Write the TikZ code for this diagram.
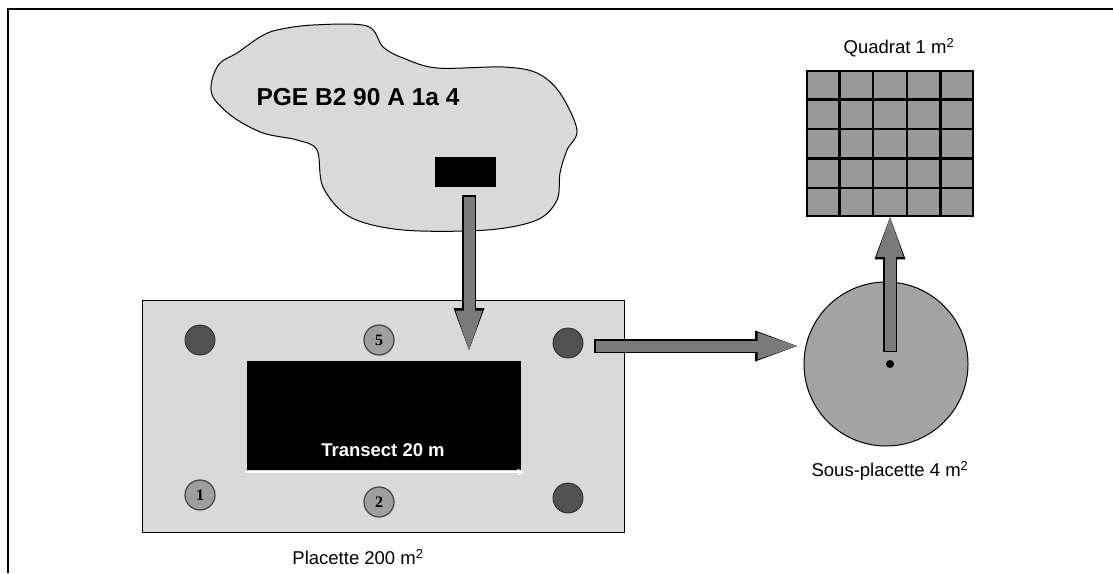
\documentclass[tikz,border=0pt]{standalone}
\usepackage{fontspec}
\setmainfont{Liberation Sans}
\newfontfamily\numfont{Liberation Serif}
\usetikzlibrary{arrows.meta,positioning,calc}

\begin{document}
\begin{tikzpicture}[
  x=1pt, y=-1pt,
  lbl/.style={font=\fontsize{18.5}{20}\selectfont, inner sep=0pt},
  zone/.style={draw=black, line width=1pt, fill=black!15},
  stake/.style={circle, draw=black!85, line width=0.8pt, fill=black!68,
                minimum size=30pt, inner sep=0pt},
  numstake/.style={stake, draw=black!75, line width=1.2pt, fill=black!38,
                   font=\fontsize{16}{16}\selectfont\numfont\bfseries},
  arrowrim/.style={draw=black, line width=14pt,
                   -{Triangle[length=42pt,width=31pt,line width=0pt]}},
  arrowbody/.style={draw=black!52, line width=11pt, shorten <=1.5pt,
                    -{Triangle[length=39.5pt,width=27pt,line width=0pt]}},
  grid/.style={line width=2.5pt},
]
\useasboundingbox (0,0) rectangle (1113,573);
\draw[line width=2pt] (1113,9) -- (8,9) -- (8,573);

% lot
\draw[zone] plot[smooth cycle, tension=0.55] coordinates {
  (212,80) (220,63) (237,53) (260,37) (277,30) (313,25) (367,26) (383,47)
  (403,58) (437,68) (503,67) (537,73) (560,93) (577,130) (567,150) (560,173)
  (557,200) (537,220) (487,230) (403,230) (350,217) (323,187) (317,150)
  (297,140) (263,133) (233,117) (213,97)};
\node[font=\fontsize{24.5}{26}\selectfont\bfseries] (code) at (358,97) {PGE B2 90 A 1a 4};
\node[fill=black, minimum width=61pt, minimum height=30pt, inner sep=0pt] (tag) at (465.5,172) {};

% placette
\node[zone, minimum width=482pt, minimum height=232pt, inner sep=0pt] (placette) at (383,416) {};
\node[lbl] (placettelbl) at (358,557) {Placette 200 m\textsuperscript{2}};
\node[fill=black, minimum width=274pt, minimum height=109pt, inner sep=0pt] (transect) at (384,415.5) {};
\node[lbl, text=white, font=\fontsize{18.5}{20}\selectfont\bfseries] (transectlbl) at (383,450) {Transect 20 m};
\draw[white, line width=1.5pt, -{Stealth[length=7pt,width=7pt]}]
  ($(transect.south west)+(-2,2)$) -- ($(transect.south east)+(3,2)$);

\node[stake]          (pTL) at (200,340) {};
\node[numstake]       (p5)  at (379,340) {5};
\node[stake]          (pTR) at (568,343) {};
\node[numstake]       (p1)  at (200,495) {1};
\node[numstake]       (p2)  at (379,502) {2};
\node[stake]          (pBR) at (568,498) {};

% sous-placette
\node[circle, draw, line width=1pt, fill=black!36, minimum size=164pt, inner sep=0pt] (sous) at (886,364) {};
\node[circle, fill=black, minimum size=8pt, inner sep=0pt] (centre) at (890,364) {};
\node[lbl] (souslbl) at (890,471) {Sous-placette 4 m\textsuperscript{2}};

% quadrat
\node[draw, line width=2.5pt, fill=black!40, minimum width=166pt, minimum height=145pt,
      inner sep=0pt] (quadrat) at (890,143.5) {};
\foreach \k in {1,...,4} {
  \draw[grid] ($(quadrat.north west)!\k/5!(quadrat.north east)$) -- ($(quadrat.south west)!\k/5!(quadrat.south east)$);
  \draw[grid] ($(quadrat.north west)!\k/5!(quadrat.south west)$) -- ($(quadrat.north east)!\k/5!(quadrat.south east)$);
}
\node[lbl] (quadratlbl) at (899,48) {Quadrat 1 m\textsuperscript{2}};

% arrows
\coordinate (dropstart) at (469,195);
\coordinate (dropend)   at (469,350);
\coordinate (sidestart) at (594,346);
\coordinate (sideend)   at (797,346);
\draw[arrowrim]  (dropstart) -- (dropend);
\draw[arrowbody] (dropstart) -- (dropend);
\draw[arrowrim]  (sidestart) -- (sideend);
\draw[arrowbody] (sidestart) -- (sideend);
\draw[arrowrim]  ($(centre)+(0,-12)$) -- (quadrat.south);
\draw[arrowbody] ($(centre)+(0,-12)$) -- (quadrat.south);
\end{tikzpicture}
\end{document}
